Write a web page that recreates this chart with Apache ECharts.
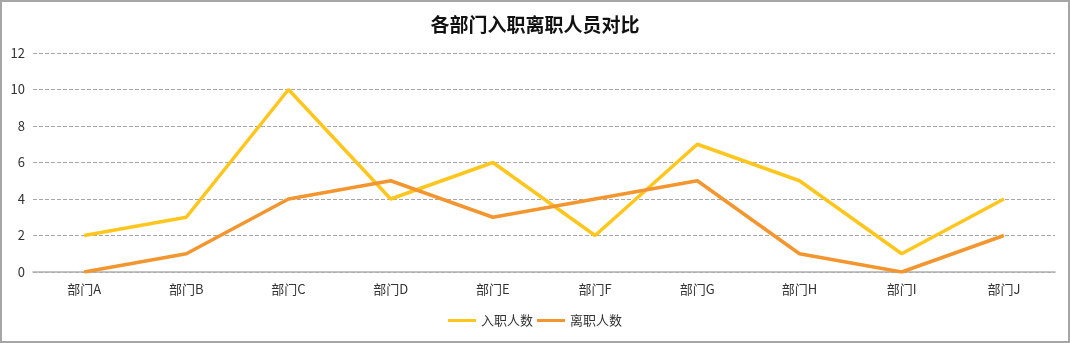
<!DOCTYPE html>
<html>
<head>
<meta charset="utf-8">
<script src="https://cdn.jsdelivr.net/npm/echarts@6/dist/echarts.min.js"></script>
<style>
  html, body { margin: 0; padding: 0; background: #fff; }
  #wrap { width: 1070px; height: 343px; box-sizing: border-box; border: 2px solid #a6a6a6; }
  #chart { width: 1066px; height: 339px; }
</style>
</head>
<body>
<div id="wrap"><div id="chart"></div></div>
<script>
const departments = ['部门A', '部门B', '部门C', '部门D', '部门E', '部门F', '部门G', '部门H', '部门I', '部门J'];
const hires = [2, 3, 10, 4, 6, 2, 7, 5, 1, 4];
const leavers = [0, 1, 4, 5, 3, 4, 5, 1, 0, 2];
const seriesNames = ['入职人数', '离职人数'];

const font = '"Microsoft YaHei", "Noto Sans CJK SC", sans-serif';
const chart = echarts.init(document.getElementById('chart'));
chart.setOption({
  animation: false,
  color: ['#FFC61E', '#F3962F'],
  title: {
    text: '各部门入职离职人员对比',
    left: 'center',
    top: 8,
    textStyle: { fontFamily: font, fontSize: 19, fontWeight: 'bold', color: '#111' }
  },
  legend: {
    data: seriesNames,
    bottom: 9,
    left: 'center',
    itemWidth: 28,
    itemHeight: 3,
    itemGap: 4,
    icon: 'rect',
    textStyle: { fontFamily: font, fontSize: 13, color: '#333' }
  },
  grid: { left: 31, right: 13, top: 51, bottom: 69 },
  xAxis: {
    type: 'category',
    data: departments,
    boundaryGap: true,
    axisLine: { lineStyle: { color: '#b0b0b0', width: 1.5 } },
    axisTick: { show: false },
    axisLabel: { fontFamily: font, fontSize: 13, color: '#333', margin: 11 }
  },
  yAxis: {
    type: 'value',
    min: 0,
    max: 12,
    interval: 2,
    axisLine: { show: false },
    axisTick: { show: false },
    axisLabel: { fontFamily: font, fontSize: 13, color: '#333', margin: 8 },
    splitLine: { lineStyle: { color: '#a6a6a6', type: [4, 2], width: 1 } }
  },
  series: [
    { name: seriesNames[0], type: 'line', data: hires, showSymbol: false, symbol: 'none', lineStyle: { width: 3.5 } },
    { name: seriesNames[1], type: 'line', data: leavers, showSymbol: false, symbol: 'none', lineStyle: { width: 3.5 } }
  ]
});
</script>
</body>
</html>
